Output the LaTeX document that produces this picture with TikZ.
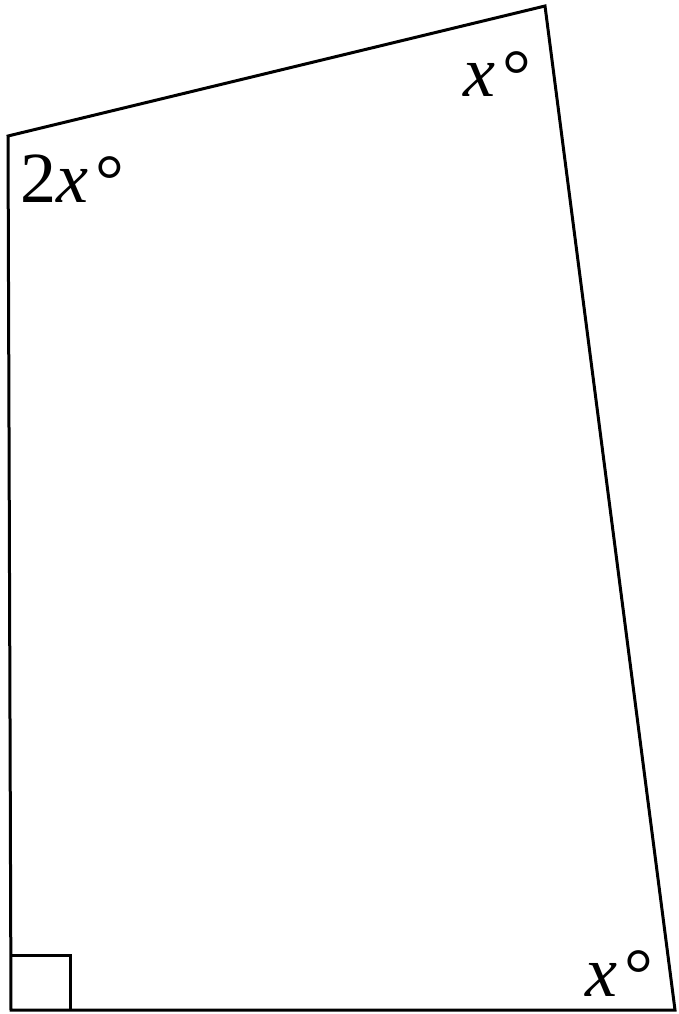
\documentclass[tikz,border=0pt]{standalone}
\usepackage{fontspec}
\setmainfont{Liberation Serif}
\begin{document}
\begin{tikzpicture}[x=1pt,y=-1pt,
  edge/.style={line width=3pt,line join=miter},
  lbl/.style={inner sep=0pt,anchor=base west,font=\fontsize{72}{80}\selectfont}]
\useasboundingbox (0,0) rectangle (678,1014);
\coordinate (A) at (8,136);
\coordinate (B) at (545,6);
\coordinate (C) at (675,1010);
\coordinate (D) at (11,1010);
\draw[edge] (A) -- (B) -- (C) -- (D) -- cycle;
\coordinate (S1) at (11,955);
\coordinate (S2) at (70,955);
\coordinate (S3) at (70,1010);
\draw[edge] (S1) -- (S2) -- (S3);
\node[lbl] (la) at (20,202) {2\textit{x}\kern7pt\raisebox{-2pt}{°}};
\node[lbl] (lb) at (463,97) {\textit{x}\kern7pt\raisebox{-2pt}{°}};
\node[lbl] (lc) at (585,996) {\textit{x}\kern7pt\raisebox{-2pt}{°}};
\end{tikzpicture}
\end{document}
